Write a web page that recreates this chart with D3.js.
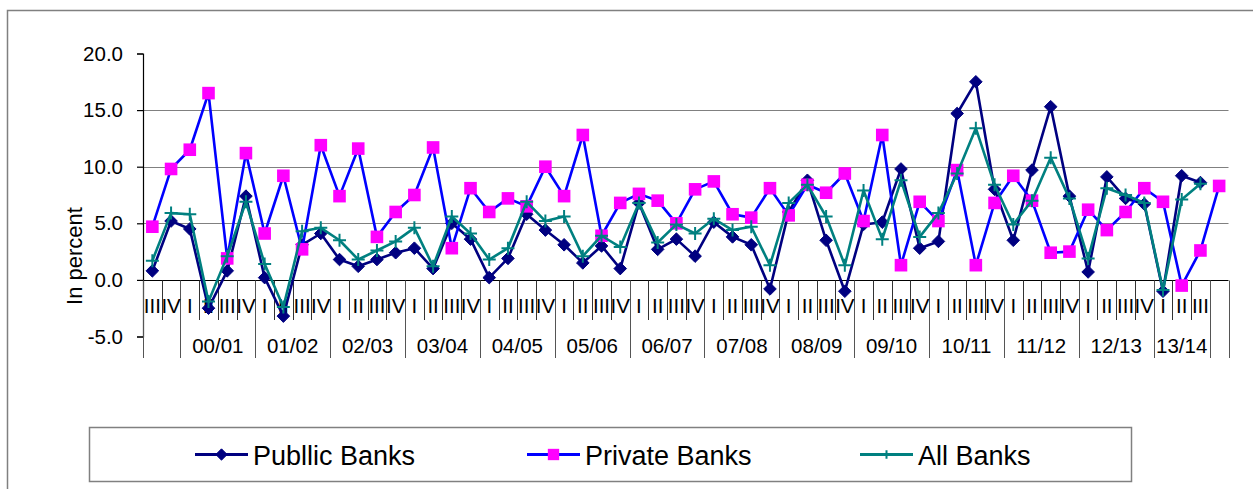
<!DOCTYPE html>
<html>
<head>
<meta charset="utf-8">
<script src="https://cdn.jsdelivr.net/npm/d3@7"></script>
<style>
  html, body { margin: 0; padding: 0; background: #fff; }
  svg { display: block; font-family: "Liberation Sans", Arial, sans-serif; }
</style>
</head>
<body>
<svg id="chart" width="1253" height="489"></svg>
<script>
// Quarterly growth rates (in percent), Q3 1999/00 onwards
const quarterLabels = ["III", "IV",
  "I", "II", "III", "IV", "I", "II", "III", "IV", "I", "II", "III", "IV",
  "I", "II", "III", "IV", "I", "II", "III", "IV", "I", "II", "III", "IV",
  "I", "II", "III", "IV", "I", "II", "III", "IV", "I", "II", "III", "IV",
  "I", "II", "III", "IV", "I", "II", "III", "IV", "I", "II", "III", "IV",
  "I", "II", "III", "IV", "I", "II", "III", ""];
const yearLabels = ["", "00/01", "01/02", "02/03", "03/04", "04/05", "05/06", "06/07",
  "07/08", "08/09", "09/10", "10/11", "11/12", "12/13", "13/14", ""];
const yearSizes = [2, 4, 4, 4, 4, 4, 4, 4, 4, 4, 4, 4, 4, 4, 3, 1];

const publicBanks = [0.8, 5.2, 4.5, -2.5, 0.8, 7.4, 0.2, -3.2, 3.1, 4.1, 1.8, 1.2, 1.8, 2.4, 2.8,
  1.0, 5.0, 3.6, 0.2, 1.9, 5.8, 4.4, 3.1, 1.5, 3.0, 1.0, 6.8, 2.7, 3.6, 2.1, 5.1, 3.8, 3.1, -0.8,
  6.0, 8.8, 3.5, -1.0, 4.9, 5.1, 9.8, 2.8, 3.4, 14.7, 17.5, 8.0, 3.5, 9.7, 15.3, 7.4, 0.7, 9.1,
  7.2, 6.7, -1.0, 9.2, 8.6];
const privateBanks = [4.7, 9.8, 11.5, 16.5, 1.9, 11.2, 4.1, 9.2, 2.7, 11.9, 7.4, 11.6, 3.8, 6.0, 7.5,
  11.7, 2.8, 8.1, 6.0, 7.2, 6.5, 10.0, 7.4, 12.8, 3.9, 6.8, 7.6, 7.0, 5.0, 8.0, 8.7, 5.8, 5.5, 8.1,
  5.7, 8.4, 7.7, 9.4, 5.2, 12.8, 1.3, 6.9, 5.2, 9.7, 1.3, 6.8, 9.2, 7.0, 2.4, 2.5, 6.2, 4.4, 6.0,
  8.1, 6.9, -0.5, 2.6, 8.3];
const allBanks = [1.7, 5.9, 5.8, -1.9, 2.1, 6.9, 1.4, -2.4, 4.3, 4.6, 3.5, 1.8, 2.6, 3.4, 4.6,
  1.2, 5.6, 4.1, 1.8, 2.8, 6.9, 5.2, 5.6, 2.1, 3.9, 2.9, 6.8, 3.3, 4.9, 4.1, 5.4, 4.4, 4.7, 1.3,
  6.8, 8.4, 5.6, 1.3, 7.9, 3.6, 8.8, 3.8, 5.9, 9.4, 13.4, 8.4, 4.9, 7.0, 10.8, 7.2, 1.9, 8.1,
  7.5, 6.8, -0.9, 7.1, 8.5];
const yTicks = [-5, 0, 5, 10, 15, 20];
const gridValues = [5, 10, 15];

const seriesNames = ["Publlic Banks", "Private Banks", "All Banks"];

const svg = d3.select("#chart");

// outer chart frame
svg.append("rect")
  .attr("x", 7.5).attr("y", 10.5).attr("width", 1260).attr("height", 500)
  .attr("fill", "none").attr("stroke", "#808080").attr("stroke-width", 1.5);

const x = d3.scaleBand().domain(d3.range(quarterLabels.length)).range([143, 1228.5]).padding(0);
const y = d3.scaleLinear().domain([-5, 20]).range([336.5, 53.5]);
const cx = i => x(i) + x.bandwidth() / 2;

// horizontal gridlines
svg.append("g").selectAll("line").data(gridValues).join("line")
  .attr("x1", x.range()[0]).attr("x2", x.range()[1])
  .attr("y1", d => Math.round(y(d)) + 0.5).attr("y2", d => Math.round(y(d)) + 0.5)
  .attr("stroke", "#808080").attr("stroke-width", 1.2);

// value axis
const yAxis = svg.append("g")
  .attr("transform", "translate(143,0)")
  .call(d3.axisLeft(y).tickValues(yTicks).tickSize(6).tickPadding(14)
    .tickFormat(d => d.toFixed(1)));
yAxis.select(".domain").attr("stroke", "#000").attr("stroke-width", 1.2);
yAxis.selectAll(".tick line").attr("stroke", "#000").attr("stroke-width", 1.2);
yAxis.selectAll("text").attr("font-size", 20.5).attr("fill", "#000")
  .attr("font-family", "Liberation Sans, Arial, sans-serif");

svg.append("text")
  .attr("transform", `translate(82,256) rotate(-90)`)
  .attr("text-anchor", "middle")
  .attr("font-size", 22).attr("fill", "#000")
  .text("In percent");

// category axis: baseline at zero, quarter dividers, year dividers
const axisY = Math.round(y(0)) + 0.5;
const catG = svg.append("g");
catG.append("line")
  .attr("x1", x.range()[0]).attr("x2", x.range()[1])
  .attr("y1", axisY).attr("y2", axisY)
  .attr("stroke", "#000").attr("stroke-width", 1.2);

const yearBounds = [0];
yearSizes.forEach(s => yearBounds.push(yearBounds[yearBounds.length - 1] + s));
const boundaryIdx = d3.range(quarterLabels.length + 1);
const bx = k => k < quarterLabels.length ? x(k) : x.range()[1];

catG.selectAll("line.qt").data(boundaryIdx).join("line").attr("class", "qt")
  .attr("x1", k => Math.round(bx(k)) + 0.5).attr("x2", k => Math.round(bx(k)) + 0.5)
  .attr("y1", axisY)
  .attr("y2", k => yearBounds.includes(k) ? 358 : 320)
  .attr("stroke", k => yearBounds.includes(k) ? "#555" : "#333")
  .attr("stroke-width", 1);

catG.selectAll("text.q").data(quarterLabels).join("text").attr("class", "q")
  .attr("x", (d, i) => cx(i)).attr("y", 313)
  .attr("text-anchor", "middle").attr("font-size", 20.5).attr("fill", "#000")
  .text(d => d);

catG.selectAll("text.yr").data(yearLabels).join("text").attr("class", "yr")
  .attr("x", (d, i) => (bx(yearBounds[i]) + bx(yearBounds[i + 1])) / 2)
  .attr("y", 352.5)
  .attr("text-anchor", "middle").attr("font-size", 20.5).attr("fill", "#000")
  .text(d => d);

// series
const line = d3.line().x((d, i) => cx(i)).y(d => y(d));
const diamond = s => `M0,${-s}L${s},0L0,${s}L${-s},0Z`;
const plus = s => `M${-s},0H${s}M0,${-s}V${s}`;

const series = [
  { name: seriesNames[0], values: publicBanks, stroke: "#000080", marker: "diamond", fill: "#000080" },
  { name: seriesNames[1], values: privateBanks, stroke: "#0000FF", marker: "square", fill: "#FF00FF" },
  { name: seriesNames[2], values: allBanks, stroke: "#008080", marker: "plus", fill: "none" }
];

function drawMarker(g, s, px, py, scale) {
  if (s.marker === "diamond") {
    g.append("path").attr("d", diamond(6.3 * scale)).attr("transform", `translate(${px},${py})`)
      .attr("fill", s.fill).attr("stroke", s.fill).attr("stroke-width", 1);
  } else if (s.marker === "square") {
    const h = 6.3 * scale;
    g.append("rect").attr("x", px - h).attr("y", py - h).attr("width", 2 * h).attr("height", 2 * h)
      .attr("fill", s.fill);
  } else {
    g.append("path").attr("d", plus(6.5 * scale)).attr("transform", `translate(${px},${py})`)
      .attr("fill", "none").attr("stroke", s.stroke).attr("stroke-width", 2);
  }
}

series.forEach(s => {
  const g = svg.append("g");
  g.append("path").datum(s.values).attr("d", line)
    .attr("fill", "none").attr("stroke", s.stroke).attr("stroke-width", 2.6)
    .attr("stroke-linejoin", "round");
  s.values.forEach((v, i) => drawMarker(g, s, cx(i), y(v), 1));
});

// legend
const legend = svg.append("g");
legend.append("rect")
  .attr("x", 89.5).attr("y", 427.5).attr("width", 1042).attr("height", 54)
  .attr("fill", "#fff").attr("stroke", "#808080").attr("stroke-width", 1.5);
const legendX = [195, 527, 860];
series.forEach((s, k) => {
  const lg = legend.append("g");
  const x0 = legendX[k];
  lg.append("line").attr("x1", x0).attr("x2", x0 + 53).attr("y1", 454.5).attr("y2", 454.5)
    .attr("stroke", s.stroke).attr("stroke-width", 3);
  drawMarker(lg, s, x0 + 26.5, 454.5, s.marker === "plus" ? 0.65 : 0.9);
  lg.append("text").attr("x", x0 + 58).attr("y", 465)
    .attr("font-size", 27).attr("fill", "#000").text(s.name);
});
</script>
</body>
</html>
